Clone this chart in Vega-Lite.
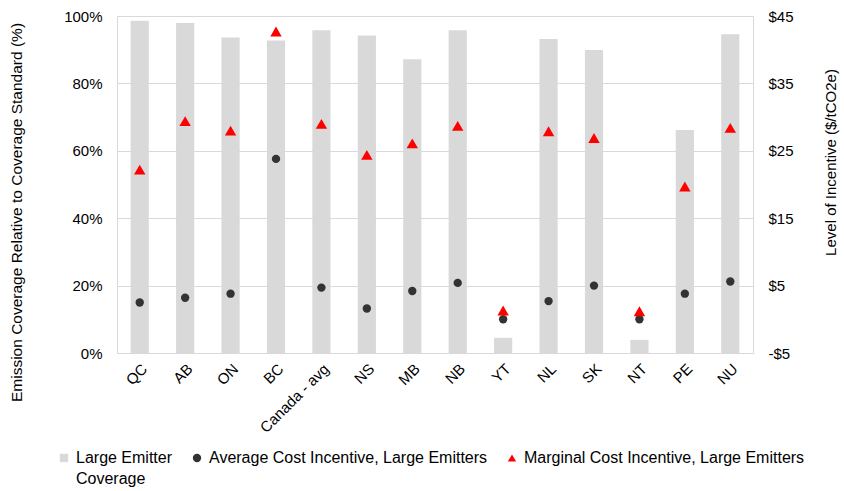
{
  "$schema": "https://vega.github.io/schema/vega-lite/v6.json",
  "width": 636,
  "height": 337,
  "autosize": {"type": "none"},
  "padding": {"left": 117, "top": 16, "right": 91, "bottom": 138},
  "background": "white",
  "config": {
    "font": "Liberation Sans",
    "view": {"stroke": "#d9d9d9"},
    "axis": {
      "labelFont": "Liberation Sans",
      "labelFontSize": 15,
      "labelColor": "#000000",
      "titleFont": "Liberation Sans",
      "titleFontSize": 15,
      "titleFontWeight": "normal",
      "titleColor": "#000000",
      "domain": false,
      "ticks": false
    },
    "legend": {
      "labelFont": "Liberation Sans",
      "labelFontSize": 16,
      "labelColor": "#000000",
      "labelLimit": 400,
      "symbolSize": 70,
      "symbolStrokeWidth": 0,
      "padding": 0
    }
  },
  "data": {
    "values": [
      {"prov": "QC", "coverage": 0.986, "avg": 2.5, "marg": 22.2},
      {"prov": "AB", "coverage": 0.979, "avg": 3.2, "marg": 29.4},
      {"prov": "ON", "coverage": 0.936, "avg": 3.8, "marg": 28.0},
      {"prov": "BC", "coverage": 0.927, "avg": 23.8, "marg": 42.7},
      {"prov": "Canada - avg", "coverage": 0.958, "avg": 4.7, "marg": 29.0},
      {"prov": "NS", "coverage": 0.942, "avg": 1.6, "marg": 24.4},
      {"prov": "MB", "coverage": 0.872, "avg": 4.2, "marg": 26.1},
      {"prov": "NB", "coverage": 0.958, "avg": 5.4, "marg": 28.7},
      {"prov": "YT", "coverage": 0.045, "avg": 0.0, "marg": 1.3},
      {"prov": "NL", "coverage": 0.932, "avg": 2.7, "marg": 27.9},
      {"prov": "SK", "coverage": 0.899, "avg": 5.0, "marg": 26.9},
      {"prov": "NT", "coverage": 0.039, "avg": 0.0, "marg": 1.2},
      {"prov": "PE", "coverage": 0.662, "avg": 3.8, "marg": 19.7},
      {"prov": "NU", "coverage": 0.946, "avg": 5.6, "marg": 28.4}
    ]
  },
  "encoding": {
    "x": {
      "field": "prov",
      "type": "nominal",
      "sort": null,
      "scale": {"paddingInner": 0.6, "paddingOuter": 0.3},
      "axis": {"title": null, "labelAngle": -45, "labelPadding": 8}
    }
  },
  "layer": [
    {
      "mark": {"type": "bar"},
      "encoding": {
        "y": {
          "field": "coverage",
          "type": "quantitative",
          "scale": {"domain": [0, 1]},
          "axis": {
            "orient": "left",
            "format": ".0%",
            "values": [0, 0.2, 0.4, 0.6, 0.8, 1],
            "title": "Emission Coverage Relative to Coverage Standard (%)",
            "titleFontSize": 15.5,
            "gridColor": "#d9d9d9",
            "labelPadding": 15,
            "titlePadding": 39,
            "titleY": 196
          }
        },
        "color": {
          "datum": "Large Emitter Coverage",
          "scale": {
            "domain": ["Large Emitter Coverage", "Average Cost Incentive, Large Emitters", "Marginal Cost Incentive, Large Emitters"],
            "range": ["#d9d9d9", "#333333", "#ff0000"]
          },
          "legend": {
            "title": null,
            "orient": "none",
            "legendX": -61,
            "legendY": 434,
            "direction": "horizontal",
            "columns": 3,
            "columnPadding": 16,
            "labelOffset": 4,
            "labelExpr": "datum.label == 'Large Emitter Coverage' ? ['Large Emitter', 'Coverage'] : [datum.label, ' ']",
            "encode": {"labels": {"update": {"lineHeight": {"value": 21}}}}
          }
        }
      }
    },
    {
      "layer": [
        {
          "mark": {"type": "point", "filled": true, "opacity": 1, "size": 70},
          "encoding": {
            "y": {
              "field": "avg",
              "type": "quantitative",
              "scale": {"domain": [-5, 45]},
              "axis": {
                "orient": "right",
                "values": [-5, 5, 15, 25, 35, 45],
                "grid": false,
                "labelPadding": 15,
                "labelExpr": "(datum.value < 0 ? '-$' : '$') + abs(datum.value)",
                "title": "Level of Incentive ($/tCO2e)",
                "titleAngle": -90,
                "titlePadding": 45,
                "titleY": 146
              }
            },
            "color": {"datum": "Average Cost Incentive, Large Emitters"},
            "shape": {
              "datum": "Average Cost Incentive, Large Emitters",
              "scale": {
                "domain": ["Large Emitter Coverage", "Average Cost Incentive, Large Emitters", "Marginal Cost Incentive, Large Emitters"],
                "range": ["square", "circle", "triangle-up"]
              }
            }
          }
        },
        {
          "mark": {"type": "point", "filled": true, "opacity": 1, "size": 130},
          "encoding": {
            "y": {"field": "marg", "type": "quantitative"},
            "color": {"datum": "Marginal Cost Incentive, Large Emitters"},
            "shape": {"datum": "Marginal Cost Incentive, Large Emitters"}
          }
        }
      ]
    }
  ],
  "resolve": {"scale": {"y": "independent"}}
}
